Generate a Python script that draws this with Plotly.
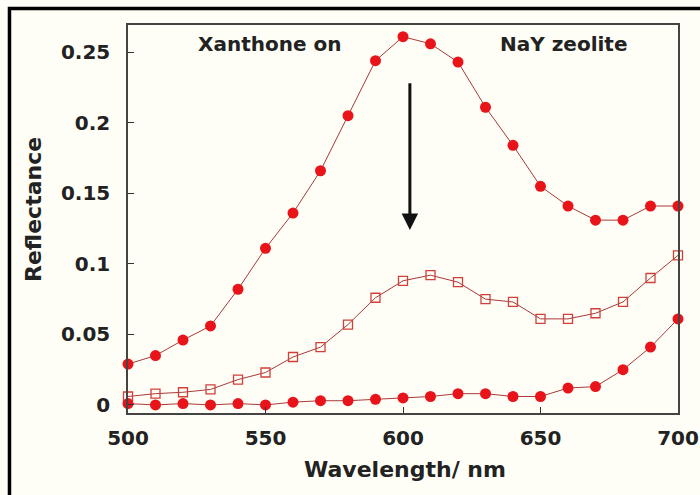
import plotly.graph_objects as go

wavelength = [500, 510, 520, 530, 540, 550, 560, 570, 580, 590, 600,
              610, 620, 630, 640, 650, 660, 670, 680, 690, 700]
refl_initial = [0.029, 0.035, 0.046, 0.056, 0.082, 0.111, 0.136, 0.166, 0.205, 0.244, 0.261,
                0.256, 0.243, 0.211, 0.184, 0.155, 0.141, 0.131, 0.131, 0.141, 0.141]
refl_mid = [0.006, 0.008, 0.009, 0.011, 0.018, 0.023, 0.034, 0.041, 0.057, 0.076, 0.088,
            0.092, 0.087, 0.075, 0.073, 0.061, 0.061, 0.065, 0.073, 0.090, 0.106]
refl_final = [0.001, 0.000, 0.001, 0.000, 0.001, 0.000, 0.002, 0.003, 0.003, 0.004, 0.005,
              0.006, 0.008, 0.008, 0.006, 0.006, 0.012, 0.013, 0.025, 0.041, 0.061]

x_ticks = [500, 550, 600, 650, 700]
y_ticks = [0, 0.05, 0.1, 0.15, 0.2, 0.25]
y_tick_text = ["0", "0.05", "0.1", "0.15", "0.2", "0.25"]

line_col = "#a83a3a"
dot_col = "#e8141a"
txt_col = "#222222"
FONT = "DejaVu Sans"

fig = go.Figure()
fig.add_trace(go.Scatter(x=wavelength, y=refl_mid, mode="lines+markers",
                         line=dict(color=line_col, width=1),
                         marker=dict(symbol="square-open", size=9, color="#d0403a",
                                     line=dict(width=1.3)), cliponaxis=False))
fig.add_trace(go.Scatter(x=wavelength, y=refl_final, mode="lines+markers",
                         line=dict(color=line_col, width=1),
                         marker=dict(symbol="circle", size=11, color=dot_col,
                                     line=dict(width=0)), cliponaxis=False))
fig.add_trace(go.Scatter(x=wavelength, y=refl_initial, mode="lines+markers",
                         line=dict(color=line_col, width=1),
                         marker=dict(symbol="circle", size=11, color=dot_col,
                                     line=dict(width=0)), cliponaxis=False))

tickfont = dict(family=FONT, size=20, color=txt_col, weight="bold")
fig.update_layout(
    width=700, height=495,
    margin=dict(l=128, r=22, t=25, b=82),
    paper_bgcolor="#fefef6", plot_bgcolor="#fefef6",
    showlegend=False,
    font=dict(family=FONT, size=20, color=txt_col),
    xaxis=dict(range=[500, 700], tickvals=x_ticks, ticks="inside", ticklen=6,
               tickcolor="#333333", showline=True, linecolor="#444444", linewidth=1.5,
               mirror=True, showgrid=False, zeroline=False, automargin=False,
               tickfont=tickfont, ticklabelstandoff=6),
    yaxis=dict(range=[-0.0057, 0.2693], tickvals=y_ticks, ticktext=y_tick_text,
               ticks="inside", ticklen=6, tickcolor="#333333", showline=True,
               linecolor="#444444", linewidth=1.5, mirror=True, showgrid=False,
               zeroline=False, automargin=False, tickfont=tickfont, ticklabelstandoff=12),
)

# outer frame (left and top edges)
fig.add_shape(type="path", xref="paper", yref="paper",
              path="M -0.2155 -0.3 L -0.2155 1.0425 L 1.2 1.0425",
              line=dict(color="#000000", width=3.5))

# downward arrow
fig.add_annotation(x=602.5, y=0.124, ax=602.5, ay=0.229, xref="x", yref="y",
                   axref="x", ayref="y", text="", showarrow=True,
                   arrowhead=2, arrowsize=1.1, arrowwidth=3, arrowcolor="#111111",
                   standoff=0, startstandoff=0)

fig.add_annotation(x=551.6, y=0.2557, xref="x", yref="y", text="<b>Xanthone on</b>",
                   showarrow=False, xanchor="center", yanchor="middle",
                   font=dict(family=FONT, size=20, color=txt_col))
fig.add_annotation(x=658.2, y=0.2557, xref="x", yref="y", text="<b>NaY zeolite</b>",
                   showarrow=False, xanchor="center", yanchor="middle",
                   font=dict(family=FONT, size=20, color=txt_col))
fig.add_annotation(x=(405 - 128) / 550, y=(413 - 469) / 388, xref="paper", yref="paper",
                   text="<b>Wavelength/ nm</b>", showarrow=False,
                   xanchor="center", yanchor="middle",
                   font=dict(family=FONT, size=22, color=txt_col))
fig.add_annotation(x=(33 - 128) / 550, y=(413 - 210) / 388, xref="paper", yref="paper",
                   text="<b>Reflectance</b>", showarrow=False, textangle=-90,
                   xanchor="center", yanchor="middle",
                   font=dict(family=FONT, size=22, color=txt_col))

fig.write_html("out.html", config={"displayModeBar": False},
               post_script="document.body.style.margin='0';"
                           "document.body.style.background='#fefef6';")
